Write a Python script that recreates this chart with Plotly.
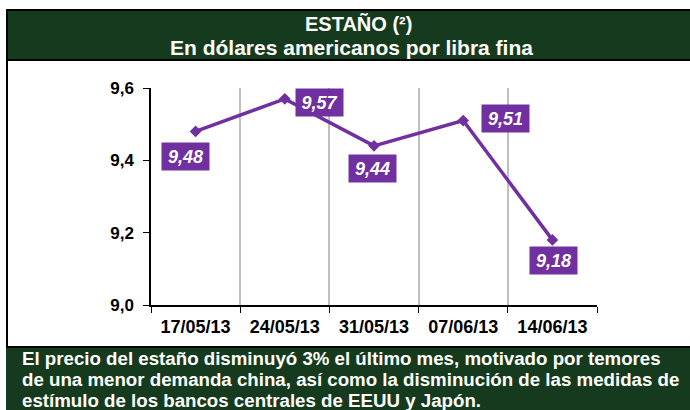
import plotly.graph_objects as go

categories = ["17/05/13", "24/05/13", "31/05/13", "07/06/13", "14/06/13"]
values = [9.48, 9.57, 9.44, 9.51, 9.18]
value_labels = ["9,48", "9,57", "9,44", "9,51", "9,18"]
y_ticks = [9.0, 9.2, 9.4, 9.6]

title_line1 = "ESTAÑO (²)"
title_line2 = "En dólares americanos por libra fina"
footer_lines = [
    "El precio del estaño disminuyó 3% el último mes, motivado por temores",
    "de una menor demanda china, así como la disminución de las medidas de",
    "estímulo de los bancos centrales de EEUU y Japón.",
]

W, H = 690, 410
L, R, T, B = 151, 93, 88, 105
PW, PH = W - L - R, H - T - B

def px(x):
    return (x - L) / PW

def py(y):
    return (H - B - y) / PH

PURPLE = "#7030A0"
GREEN = "#163A1D"
FONT = "Liberation Sans, Arial, sans-serif"

fig = go.Figure()
fig.add_trace(go.Scatter(
    x=categories, y=values, mode="lines+markers",
    line=dict(color=PURPLE, width=3.5),
    marker=dict(symbol="diamond", size=9, color=PURPLE),
    hoverinfo="skip", showlegend=False,
))

# label offsets (pixels)
offsets = [(-10, -25), (35, -4), (-2, -23), (42, 2), (1, -21)]
for c, v, t, (dx, dy) in zip(categories, values, value_labels, offsets):
    fig.add_annotation(
        x=c, y=v, xref="x", yref="y", text="<b><i>" + t + "</i></b>",
        showarrow=False, xshift=dx, yshift=dy,
        font=dict(family=FONT, size=18, color="white"),
        bgcolor=PURPLE, width=43, height=23, borderpad=2,
    )

shapes = []
# header band
shapes.append(dict(type="rect", xref="paper", yref="paper",
                   x0=px(6), x1=px(691), y0=py(60), y1=py(9),
                   fillcolor=GREEN, line=dict(width=0), layer="above"))
shapes.append(dict(type="line", xref="paper", yref="paper",
                   x0=px(6), x1=px(691), y0=py(10), y1=py(10),
                   line=dict(color="black", width=2)))
shapes.append(dict(type="line", xref="paper", yref="paper",
                   x0=px(6), x1=px(691), y0=py(60), y1=py(60),
                   line=dict(color="black", width=2)))
# left border
shapes.append(dict(type="line", xref="paper", yref="paper",
                   x0=px(7), x1=px(7), y0=py(9), y1=py(347),
                   line=dict(color="black", width=2)))
# footer band
shapes.append(dict(type="rect", xref="paper", yref="paper",
                   x0=px(6), x1=px(691), y0=py(411), y1=py(347),
                   fillcolor=GREEN, line=dict(width=0), layer="above"))
shapes.append(dict(type="line", xref="paper", yref="paper",
                   x0=px(6), x1=px(691), y0=py(347), y1=py(347),
                   line=dict(color="black", width=2)))

annos = []
annos.append(dict(xref="paper", yref="paper", x=px(358), y=py(24),
                  text="<b>" + title_line1 + "</b>", showarrow=False,
                  xanchor="center", yanchor="middle", borderpad=0,
                  font=dict(family=FONT, size=20, color="white")))
annos.append(dict(xref="paper", yref="paper", x=px(351), y=py(47),
                  text="<b>" + title_line2 + "</b>", showarrow=False,
                  xanchor="center", yanchor="middle", borderpad=0,
                  font=dict(family=FONT, size=21, color="white")))
for i, line in enumerate(footer_lines):
    annos.append(dict(xref="paper", yref="paper", x=px(20), y=py(358 + 21 * i),
                      text="<b>" + line + "</b>", showarrow=False,
                      xanchor="left", yanchor="middle",
                      font=dict(family=FONT, size=18.7, color="white")))

for a in annos:
    fig.add_annotation(**a)

fig.update_layout(
    width=W, height=H,
    margin=dict(l=L, r=R, t=T, b=B, pad=0),
    paper_bgcolor="white", plot_bgcolor="white",
    separators=",.",
    shapes=shapes,
    font=dict(family=FONT, color="black"),
)
fig.update_xaxes(
    type="category", range=[-0.5, 4.5],
    tickson="boundaries", ticks="outside", ticklen=6, tickcolor="black",
    showgrid=True, gridcolor="#BFBFBF", gridwidth=1.5,
    showline=True, linecolor="black", linewidth=1.5,
    tickfont=dict(family=FONT, size=18, color="black", weight="bold"),
    ticklabelstandoff=5,
    fixedrange=True,
)
fig.update_yaxes(
    range=[9.0, 9.6], tickvals=y_ticks, tickformat=".1f",
    ticks="outside", ticklen=6, tickcolor="black",
    showgrid=False, zeroline=False,
    showline=True, linecolor="black", linewidth=1.5,
    tickfont=dict(family=FONT, size=17, color="black", weight="bold"),
    ticklabelstandoff=6,
    fixedrange=True,
)

fig.write_html(
    "out.html",
    config=dict(displayModeBar=False),
    post_script="document.body.style.margin='0';document.body.style.overflow='hidden';",
)
